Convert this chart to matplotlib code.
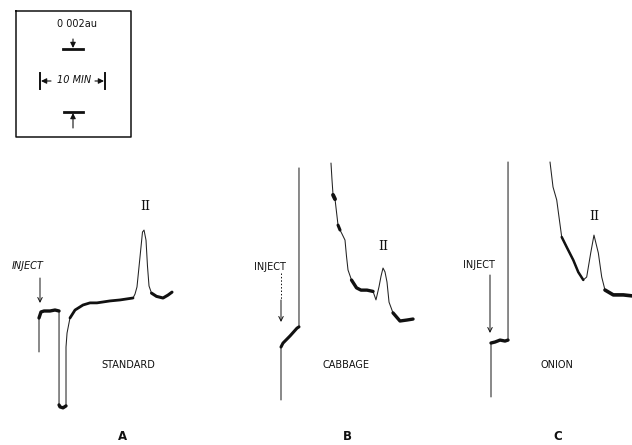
import numpy as np
import matplotlib
matplotlib.use('Agg')
import matplotlib.pyplot as plt

nan = np.nan
# ---- data: minutes after injection, absorbance (mAU) relative to injection baseline ----
t_A = [0, 0, 0.31, 0.78, 1.72, 2.5, 3.13, 3.13, 3.28, 3.75, 4.22, 4.22, 4.38, 4.84, 5.63,
       6.88, 7.97, 9.06, 11.09, 12.66, 14.69, 15.0, 15.31, 15.78, 16.17, 16.41, 16.72,
       16.95, 17.19, 17.58, 18.36, 19.38, 20.16, 20.78]
a_A = [-1.26, -0.215, -0.03, 0, 0, 0.03, 0, -2.89, -2.95, -2.98, -2.92, -1.11, -0.68, -0.215,
       0.03, 0.185, 0.25, 0.25, 0.31, 0.34, 0.40, 0.52, 0.74, 1.66, 2.43, 2.49, 2.18, 1.38,
       0.77, 0.55, 0.45, 0.40, 0.49, 0.58]

t_B = [0, 0, 0.31, 1.41, 2.5, 2.81, 2.81, nan, 7.81, 7.97, 8.13, 8.44, 8.91, 9.22, 9.53,
       10.0, 10.23, 10.47, 11.02, 11.8, 12.5, 13.44, 14.38, 14.84, 15.31, 15.63, 15.94,
       16.25, 16.56, 16.88, 17.5, 18.59, 19.69, 20.63]
a_B = [-1.63, 0, 0.12, 0.34, 0.58, 0.62, 5.51, nan, 5.66, 5.14, 4.68, 4.55, 3.75, 3.6, 3.48,
       3.29, 2.8, 2.37, 2.06, 1.82, 1.75, 1.75, 1.71, 1.45, 1.85, 2.18, 2.43, 2.31, 2.0,
       1.38, 1.05, 0.8, 0.83, 0.86]

t_C = [0, 0, 0.63, 1.41, 2.19, 2.66, 2.66, nan, 9.22, 9.69, 10.27, 10.52, 11.05, 11.83,
       12.86, 13.64, 14.42, 14.95, 15.58, 16.09, 16.77, 17.3, 17.81, 19.11, 20.67, 22.03]
a_C = [-1.66, 0, 0.03, 0.09, 0.06, 0.09, 5.57, nan, 5.57, 4.8, 4.4, 4.03, 3.26, 2.95,
       2.55, 2.18, 1.94, 2.03, 2.77, 3.32, 2.77, 2.03, 1.63, 1.48, 1.48, 1.45]

samples = ['STANDARD', 'CABBAGE', 'ONION']
panel_letters = ['A', 'B', 'C']
peak_label = 'II'
scale_au = '0 002au'
scale_time = '10 MIN'

# ---- layout (pixels) ----
W, H = 632, 445
px_per_min = 6.4
px_per_mAU = 32.5
origins = [(39, 311), (281, 347), (491, 343)]
thick = [
    [(slice(1, 7), 2.4), (slice(7, 11), 2.4), (slice(13, 21), 2.0), (slice(29, 34), 2.2)],
    [(slice(1, 6), 2.2), (slice(10, 12), 2.8), (slice(12, 14), 2.2), (slice(18, 23), 2.4), (slice(30, 34), 2.4)],
    [(slice(1, 6), 2.4), (slice(12, 17), 1.8), (slice(22, 26), 2.6)],
]
ink = '#111111'

fig = plt.figure(figsize=(W / 100, H / 100), dpi=100)
fig.patch.set_facecolor('white')

ov = fig.add_axes([0, 0, 1, 1])
ov.set_xlim(0, W)
ov.set_ylim(H, 0)
ov.axis('off')

traces = [(t_A, a_A), (t_B, a_B), (t_C, a_C)]
for (t, a), (x0, y0), th in zip(traces, origins, thick):
    ax = fig.add_axes([0, 0, 1, 1])
    ax.set_xlim(-x0 / px_per_min, (W - x0) / px_per_min)
    ax.set_ylim((y0 - H) / px_per_mAU, y0 / px_per_mAU)
    ax.axis('off')
    ax.patch.set_alpha(0)
    t = np.array(t, float)
    a = np.array(a, float)
    ax.plot(t, a, color='#222222', lw=0.75, solid_capstyle='round', solid_joinstyle='round')
    for sl, lw in th:
        ax.plot(t[sl], a[sl], color=ink, lw=lw, solid_capstyle='round', solid_joinstyle='round')

# ---- annotations ----
txt = dict(color=ink, fontsize=7, family='DejaVu Sans', ha='center', va='center')
for name, x, y in zip(samples, [128, 346, 557], [365, 365, 365]):
    ov.text(x, y, name, **txt)
for name, x in zip(panel_letters, [123, 347, 558]):
    ov.text(x, 437, name, color=ink, fontsize=8.5, fontweight='bold', ha='center', va='center')
for x, y in [(145, 207), (383, 247), (594, 216)]:
    ov.text(x, y, peak_label, color=ink, fontsize=9, family='DejaVu Serif', ha='center', va='center')

ov.text(28, 266, 'INJECT', style='italic', **txt)
ov.text(270, 267, 'INJECT', **txt)
ov.text(479, 265, 'INJECT', **txt)
ap = dict(arrowstyle='->', lw=0.7, color=ink, shrinkA=0, shrinkB=0, mutation_scale=8)
ov.annotate('', xy=(40, 303), xytext=(40, 278), arrowprops=ap)
ov.plot([281, 281], [273, 300], color=ink, lw=0.7, ls=(0, (1.5, 2)))
ov.annotate('', xy=(281, 322), xytext=(281, 300), arrowprops=ap)
ov.annotate('', xy=(490, 333), xytext=(490, 275), arrowprops=ap)

# ---- scale box ----
ov.plot([16, 131, 131, 16, 16], [11, 11, 137, 137, 11], color=ink, lw=1.1)
ov.text(77, 24, scale_au, **txt)
ov.plot([63, 83], [49, 49], color=ink, lw=2.0)
ov.plot([64, 83], [112, 112], color=ink, lw=2.0)
aph = dict(arrowstyle='-|>', lw=0.8, color=ink, shrinkA=0, shrinkB=0, mutation_scale=8)
ov.annotate('', xy=(73, 48), xytext=(73, 39), arrowprops=aph)
ov.annotate('', xy=(73, 113), xytext=(73, 128), arrowprops=aph)
ov.plot([40, 40], [73, 89], color=ink, lw=1.4)
ov.plot([105, 105], [73, 89], color=ink, lw=1.4)
ov.annotate('', xy=(41, 81), xytext=(51, 81), arrowprops=aph)
ov.annotate('', xy=(104, 81), xytext=(95, 81), arrowprops=aph)
ov.text(74, 80, scale_time, style='italic', **txt)

fig.savefig('out.png', dpi=100, facecolor='white')
